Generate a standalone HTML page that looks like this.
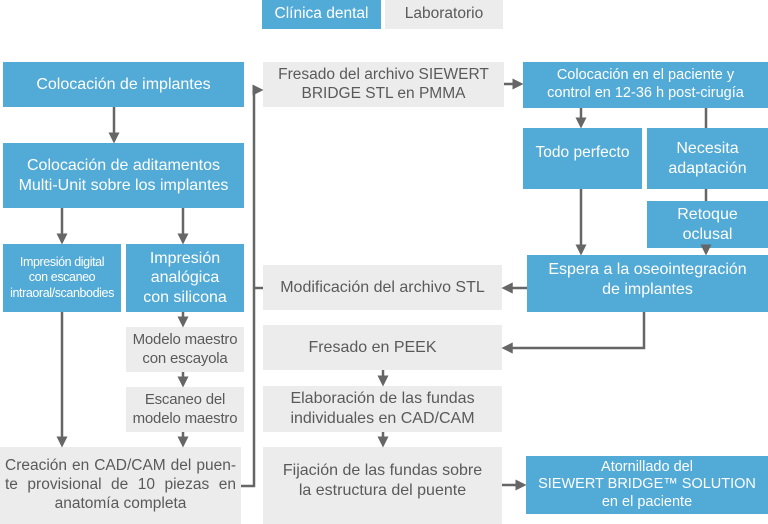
<!DOCTYPE html>
<html><head><meta charset="utf-8"><style>
body{margin:0;width:768px;height:524px;background:#fff;position:relative;overflow:hidden;font-family:"Liberation Sans",sans-serif;}
.b{position:absolute;display:flex;align-items:center;justify-content:center;text-align:center;box-sizing:border-box;line-height:1.22;}
.c{background:#52aad7;color:#fff;}
.l{background:#ececec;color:#5a5a5a;}
svg{position:absolute;left:0;top:0;}
</style></head><body>
<div class="b c" style="left:262px;top:0;width:119px;height:29px;font-size:15.5px">Clínica dental</div>
<div class="b l" style="left:385px;top:0;width:118px;height:29px;font-size:15.5px">Laboratorio</div>

<div class="b c" style="left:3px;top:62px;width:241px;height:45px;font-size:16px">Colocación de implantes</div>
<div class="b c" style="left:3px;top:143px;width:241px;height:65px;font-size:16px">Colocación de aditamentos<br>Multi-Unit sobre los implantes</div>
<div class="b c" style="left:3px;top:244px;width:118px;height:68px;font-size:12.5px;letter-spacing:-0.4px">Impresión digital<br>con escaneo<br>intraoral/scanbodies</div>
<div class="b c" style="left:126px;top:244px;width:118px;height:68px;font-size:16px">Impresión<br>analógica<br>con silicona</div>
<div class="b l" style="left:126px;top:327px;width:118px;height:45px;font-size:15px;letter-spacing:-0.2px">Modelo maestro<br>con escayola</div>
<div class="b l" style="left:126px;top:387px;width:118px;height:45px;font-size:15px;letter-spacing:-0.2px">Escaneo del<br>modelo maestro</div>
<div class="b l" style="left:0;top:447px;width:241px;height:77px;font-size:15.5px;text-align:justify;text-align-last:center;padding:0 5px;display:block;padding-top:10px">Creación en CAD/CAM del puen-te provisional de 10 piezas en anatomía completa</div>

<div class="b l" style="left:263px;top:62px;width:241px;height:45px;font-size:15.5px">Fresado del archivo SIEWERT<br>BRIDGE STL en PMMA</div>
<div class="b l" style="left:263px;top:265px;width:239px;height:45px;font-size:16px">Modificación del archivo STL</div>
<div class="b l" style="left:263px;top:325px;width:239px;height:45px;font-size:16px;padding-right:20px">Fresado en PEEK</div>
<div class="b l" style="left:263px;top:386px;width:239px;height:46px;font-size:16px">Elaboración de las fundas<br>individuales en CAD/CAM</div>
<div class="b l" style="left:263px;top:447px;width:239px;height:77px;font-size:16px;padding-bottom:10px">Fijación de las fundas sobre<br>la estructura del puente</div>

<div class="b c" style="left:523px;top:62px;width:245px;height:46px;font-size:14.5px">Colocación en el paciente y<br>control en 12-36 h post-cirugía</div>
<div class="b c" style="left:523px;top:128px;width:119px;height:61px;font-size:15.5px;padding-bottom:10px">Todo perfecto</div>
<div class="b c" style="left:647px;top:128px;width:121px;height:61px;font-size:16px">Necesita<br>adaptación</div>
<div class="b c" style="left:647px;top:201px;width:121px;height:47px;font-size:16px">Retoque<br>oclusal</div>
<div class="b c" style="left:527px;top:255px;width:241px;height:57px;font-size:16px;padding-bottom:8px">Espera a la oseointegración<br>de implantes</div>
<div class="b c" style="left:526px;top:456px;width:242px;height:58px;font-size:14.5px;line-height:1.18">Atornillado del<br>SIEWERT BRIDGE™ SOLUTION<br>en el paciente</div>

<svg width="768" height="524" viewBox="0 0 768 524">
<defs><marker id="a" markerWidth="4.5" markerHeight="4.5" refX="3.5" refY="2.25" orient="auto" markerUnits="strokeWidth"><path d="M0,0 L4.5,2.25 L0,4.5 z" fill="#666"/></marker></defs>
<g stroke="#666" stroke-width="2.5" fill="none">
<path d="M114 107 V141" marker-end="url(#a)"/>
<path d="M62 208 V242" marker-end="url(#a)"/>
<path d="M183 208 V242" marker-end="url(#a)"/>
<path d="M62 312 V445" marker-end="url(#a)"/>
<path d="M183 312 V325" marker-end="url(#a)"/>
<path d="M183 372 V385" marker-end="url(#a)"/>
<path d="M183 432 V445" marker-end="url(#a)"/>
<path d="M241 486 H254 V90 H261" marker-end="url(#a)"/>
<path d="M254 288 H263"/>
<path d="M504 84 H521" marker-end="url(#a)"/>
<path d="M581 108 V126" marker-end="url(#a)"/>
<path d="M706 108 V128"/>
<path d="M706 189 V201"/>
<path d="M706 248 V253" marker-end="url(#a)"/>
<path d="M581 189 V253" marker-end="url(#a)"/>
<path d="M527 288 H504" marker-end="url(#a)"/>
<path d="M644 312 V348 H504" marker-end="url(#a)"/>
<path d="M383 370 V384" marker-end="url(#a)"/>
<path d="M383 432 V445" marker-end="url(#a)"/>
<path d="M502 485 H524" marker-end="url(#a)"/>
</g></svg>
</body></html>
